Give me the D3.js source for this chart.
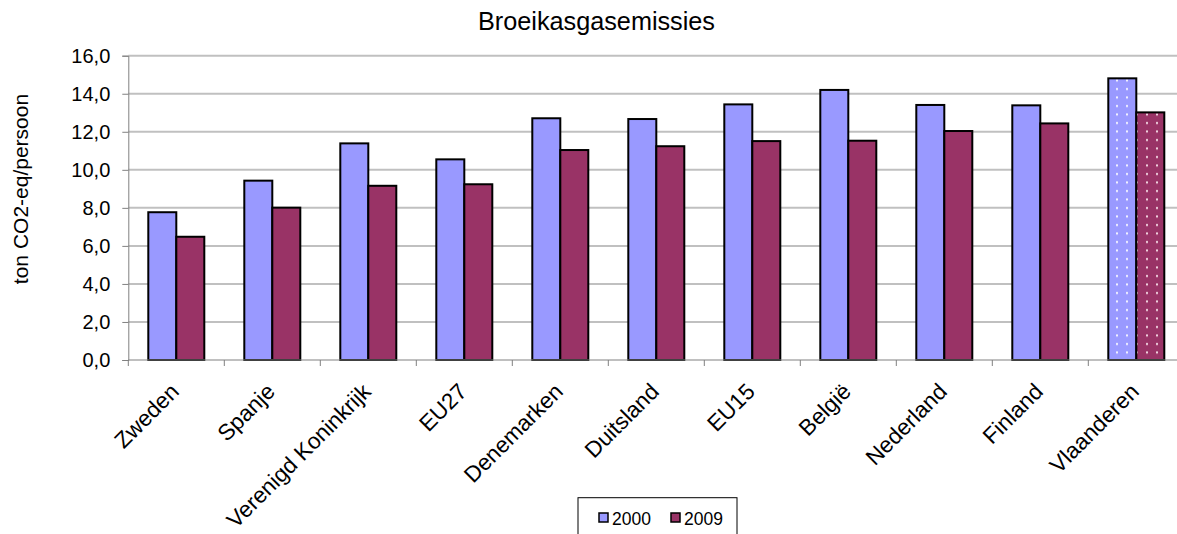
<!DOCTYPE html>
<html>
<head>
<meta charset="utf-8">
<script src="https://cdn.jsdelivr.net/npm/d3@7"></script>
<style>
  html, body { margin: 0; padding: 0; background: #fff; }
  svg { display: block; }
  text { font-family: "Liberation Sans", Arial, sans-serif; fill: #000; }
</style>
</head>
<body>
<svg id="chart" width="1177" height="534"></svg>
<script>
const categories = ["Zweden", "Spanje", "Verenigd Koninkrijk", "EU27", "Denemarken", "Duitsland", "EU15", "België", "Nederland", "Finland", "Vlaanderen"];
const values2000 = [7.77, 9.43, 11.39, 10.55, 12.71, 12.67, 13.44, 14.20, 13.41, 13.39, 14.81];
const values2009 = [6.48, 8.01, 9.16, 9.24, 11.04, 11.24, 11.51, 11.53, 12.04, 12.44, 13.02];
const seriesNames = ["2000", "2009"];
const yTicks = [0, 2, 4, 6, 8, 10, 12, 14, 16];
const highlighted = "Vlaanderen";

const colors = { "2000": "#9999ff", "2009": "#993366" };
const dotColors = { "2000": "#f4f4ff", "2009": "#f2d6e2" };

const svg = d3.select("#chart");
const left = 128.3, bandStep = 96;
const x = d3.scaleBand().domain(categories).range([left, left + categories.length * bandStep]).padding(0);
const xs = d3.scaleBand().domain(seriesNames).range([20, 76]).padding(0);
const y = d3.scaleLinear().domain([0, 16]).range([360, 55.7]);

// patterns
const defs = svg.append("defs");
seriesNames.forEach(s => {
  const p = defs.append("pattern").attr("id", "dots" + s)
    .attr("patternUnits", "userSpaceOnUse").attr("width", 10).attr("height", 8.5);
  p.append("rect").attr("width", 10).attr("height", 8.5).attr("fill", colors[s]);
  p.append("rect").attr("x", 6).attr("y", 3).attr("width", 2).attr("height", 2).attr("fill", dotColors[s]);
});

// gridlines
svg.append("g").selectAll("line").data(yTicks.filter(d => d > 0)).join("line")
  .attr("x1", left).attr("x2", 1177)
  .attr("y1", d => y(d)).attr("y2", d => y(d))
  .attr("stroke", "#c0c0c0").attr("stroke-width", 2);

// y axis
const yAxis = svg.append("g").attr("transform", `translate(${left},0)`)
  .call(d3.axisLeft(y).tickValues(yTicks).tickSize(6).tickPadding(12)
    .tickFormat(d => d3.format(".1f")(d).replace(".", ",")));
yAxis.select(".domain").attr("stroke", "#808080");
yAxis.selectAll(".tick line").attr("stroke", "#808080");
yAxis.selectAll(".tick text").attr("font-size", 20).attr("font-family", "Liberation Sans, Arial, sans-serif").attr("fill", "#000");

// bars
const rows = categories.map((c, i) => ({ c, vals: [values2000[i], values2009[i]] }));
const g = svg.append("g");
rows.forEach(r => {
  seriesNames.forEach((s, j) => {
    g.append("rect")
      .attr("x", x(r.c) + xs(s))
      .attr("y", y(r.vals[j]))
      .attr("width", xs.bandwidth())
      .attr("height", y(0) - y(r.vals[j]))
      .attr("fill", r.c === highlighted ? `url(#dots${s})` : colors[s])
      .attr("stroke", "#000").attr("stroke-width", 2);
  });
});

// x axis line and boundary ticks
const bounds = categories.map(c => x(c)).concat([x.range()[1]]);
svg.append("line").attr("x1", left).attr("x2", 1177).attr("y1", y(0)).attr("y2", y(0)).attr("stroke", "#808080");
svg.append("g").selectAll("line").data(bounds).join("line")
  .attr("x1", d => d).attr("x2", d => d).attr("y1", y(0)).attr("y2", y(0) + 6).attr("stroke", "#808080");

// x labels
svg.append("g").selectAll("text").data(categories).join("text")
  .attr("transform", d => `translate(${x(d) + x.bandwidth() / 2 + 4},${y(0) + 33}) rotate(-45)`)
  .attr("text-anchor", "end").attr("font-size", 22.5)
  .text(d => d);

// title
svg.append("text").attr("x", 596.5).attr("y", 29.5).attr("text-anchor", "middle")
  .attr("font-family", "DejaVu Sans, Verdana, sans-serif").attr("font-size", 26)
  .attr("textLength", 237).attr("lengthAdjust", "spacingAndGlyphs")
  .text("Broeikasgasemissies");

// y title
svg.append("text").attr("transform", "translate(28,189) rotate(-90)").attr("text-anchor", "middle")
  .attr("font-size", 21).text("ton CO2-eq/persoon");

// legend
const lg = svg.append("g");
lg.append("rect").attr("x", 578).attr("y", 497.7).attr("width", 159).attr("height", 60)
  .attr("fill", "#fff").attr("stroke", "#000").attr("stroke-width", 1);
const legX = [599, 671];
seriesNames.forEach((s, j) => {
  lg.append("rect").attr("x", legX[j]).attr("y", 513).attr("width", 9).attr("height", 9)
    .attr("fill", colors[s]).attr("stroke", "#000").attr("stroke-width", 1.5);
  lg.append("text").attr("x", legX[j] + 13).attr("y", 524.5).attr("font-size", 17.5).text(s);
});
</script>
</body>
</html>
